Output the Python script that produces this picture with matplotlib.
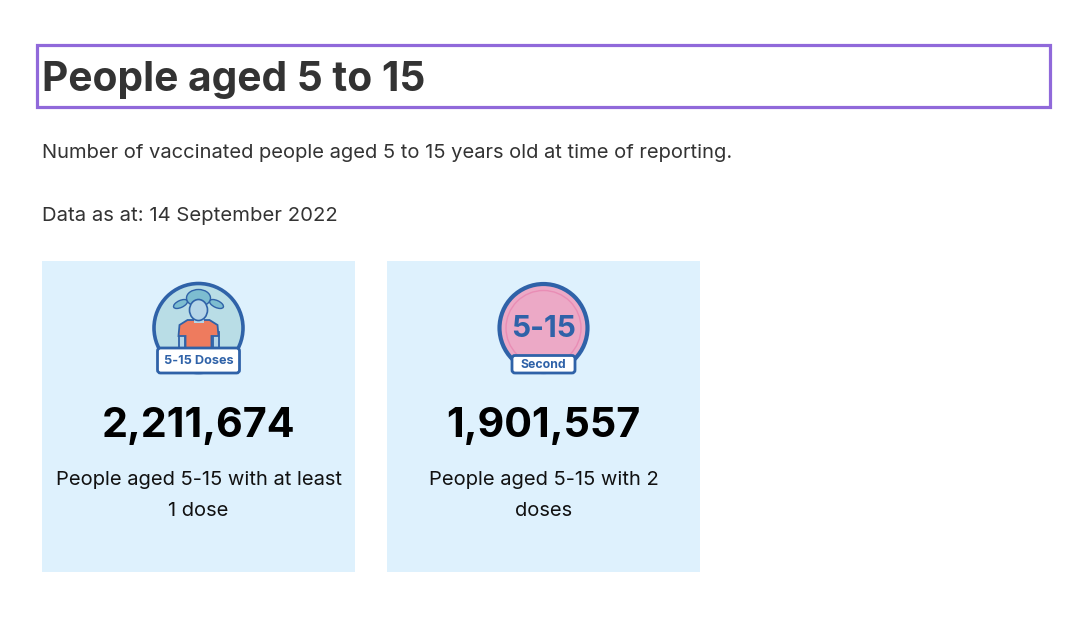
"""Two stat cards for vaccinated people aged 5 to 15."""

import matplotlib
matplotlib.use("Agg")
import matplotlib.pyplot as plt
from matplotlib.patches import Circle, Ellipse, FancyBboxPatch, Polygon, Rectangle

plt.rcParams["font.family"] = ["Inter", "DejaVu Sans"]

title = "People aged 5 to 15"
subtitle = "Number of vaccinated people aged 5 to 15 years old at time of reporting."
data_date = "Data as at: 14 September 2022"
card_values = ["2,211,674", "1,901,557"]
card_captions = ["People aged 5-15 with at least\n1 dose", "People aged 5-15 with 2\ndoses"]
badge_labels = ["5-15 Doses", "Second"]

BLUE = "#2f62a8"
CARD = "#def1fd"
DARK = "#333333"
SKIN = "#b5d5e8"
HAIR = "#7dbdd0"


def badge(ax, cx, y0, y1, half_w, label, size):
    ax.add_patch(FancyBboxPatch((cx - half_w, y0), 2 * half_w, y1 - y0,
                                boxstyle="round,pad=0,rounding_size=3",
                                fc="white", ec=BLUE, lw=2, zorder=6))
    ax.text(cx, (y0 + y1) / 2 + 0.3, label, ha="center", va="center",
            fontsize=size, fontweight="bold", color=BLUE, zorder=7)


def girl_icon(ax, cx, cy):
    ax.add_patch(Circle((cx, cy), 44.5, fc="#b9dde6", ec=BLUE, lw=2.6, zorder=2))
    # arms
    ax.add_patch(Rectangle((cx - 20, cy + 4), 6, 20, fc=SKIN, ec=BLUE, lw=1.3, zorder=3))
    ax.add_patch(Rectangle((cx + 14, cy + 4), 6, 20, fc=SKIN, ec=BLUE, lw=1.3, zorder=3))
    # shirt
    ax.add_patch(Polygon([(cx - 20, cy + 8), (cx - 19, cy - 3), (cx - 11, cy - 8),
                          (cx + 11, cy - 8), (cx + 19, cy - 3), (cx + 20, cy + 8),
                          (cx + 13, cy + 8), (cx + 13, cy + 22), (cx - 13, cy + 22),
                          (cx - 13, cy + 8)],
                         fc="#ee7b5e", ec=BLUE, lw=1.3, zorder=4))
    # pigtails
    ax.add_patch(Ellipse((cx - 18, cy - 24), 15, 7, angle=-25, fc=HAIR, ec=BLUE, lw=1, zorder=3))
    ax.add_patch(Ellipse((cx + 18, cy - 24), 15, 7, angle=25, fc=HAIR, ec=BLUE, lw=1, zorder=3))
    # hair behind the head, then neck and head
    ax.add_patch(Ellipse((cx, cy - 30), 24, 17, fc=HAIR, ec=BLUE, lw=1, zorder=4))
    ax.add_patch(Rectangle((cx - 5, cy - 13), 10, 8, fc=SKIN, ec="none", zorder=5))
    ax.add_patch(Ellipse((cx, cy - 18), 18, 21, fc=SKIN, ec=BLUE, lw=1.2, zorder=5))
    badge(ax, cx, 348, 373, 41, badge_labels[0], 9.1)


def second_icon(ax, cx, cy):
    ax.add_patch(Circle((cx, cy), 44, fc="#eca9c6", ec=BLUE, lw=3, zorder=2))
    ax.add_patch(Circle((cx, cy), 37.5, fc="none", ec="#e98db5", lw=1, zorder=3))
    ax.text(cx, cy + 1, "5-15", ha="center", va="center", fontsize=21.5,
            fontweight="bold", color=BLUE, zorder=4)
    badge(ax, cx, 355.5, 373, 31.5, badge_labels[1], 8.9)


fig = plt.figure(figsize=(10.8, 6.34), dpi=100)
ax = fig.add_axes([0, 0, 1, 1])
ax.set_xlim(0, 1080)
ax.set_ylim(634, 0)
ax.axis("off")

ax.add_patch(Rectangle((37, 45), 1012.5, 61.5, fc="white", ec="#9069da", lw=2.3))
ax.text(42, 80, title, fontsize=29.3, fontweight="bold", color=DARK, va="center")
ax.text(42, 153, subtitle, fontsize=14.5, color=DARK, va="center")
ax.text(42, 216, data_date, fontsize=14.6, color=DARK, va="center")

card_lefts = [42, 387]
card_width = 313
for left, value, caption in zip(card_lefts, card_values, card_captions):
    ax.add_patch(Rectangle((left, 261), card_width, 311, fc=CARD, ec="none"))
    mid = left + card_width / 2
    ax.text(mid, 426, value, ha="center", va="center", fontsize=29.7,
            fontweight="bold", color="black")
    ax.text(mid, 495.5, caption, ha="center", va="center", fontsize=14.5,
            color="#111111", linespacing=1.9)

girl_icon(ax, 198.5, 328)
second_icon(ax, 543.5, 328)

fig.savefig("out.png", dpi=100)
